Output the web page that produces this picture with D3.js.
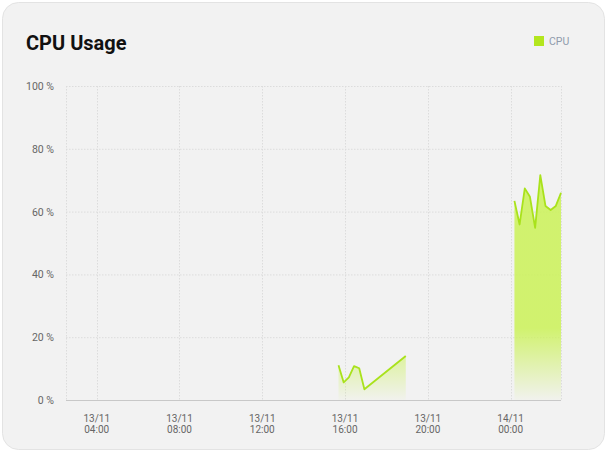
<!DOCTYPE html>
<html>
<head>
<meta charset="utf-8">
<script src="https://cdn.jsdelivr.net/npm/d3@7"></script>
<style>
  html, body { margin: 0; padding: 0; background: #ffffff; }
  svg { display: block; font-family: Roboto, "Noto Sans", sans-serif; }
</style>
</head>
<body>
<div id="chart"></div>
<script>
// CPU samples, 15 minute interval, two runs
const times = [
  "2023-11-13T15:41", "2023-11-13T15:56", "2023-11-13T16:11", "2023-11-13T16:26",
  "2023-11-13T16:41", "2023-11-13T16:56", "2023-11-13T18:56",
  "2023-11-14T00:11", "2023-11-14T00:26", "2023-11-14T00:41", "2023-11-14T00:56",
  "2023-11-14T01:11", "2023-11-14T01:26", "2023-11-14T01:41", "2023-11-14T01:56",
  "2023-11-14T02:11", "2023-11-14T02:26"
]
const cpu = [
  11.1, 5.6, 7.2, 10.8, 10.1, 3.4, 14.0,
  63.4, 55.9, 67.4, 64.7, 54.8, 71.6, 61.8, 60.5, 61.8, 66.0
]
// gap between the two runs (no samples)
const gapAfter = [6]
const xDomain = ["2023-11-13T02:31", "2023-11-14T02:26"]
const xTicks = ["2023-11-13T04:00", "2023-11-13T08:00", "2023-11-13T12:00",
  "2023-11-13T16:00", "2023-11-13T20:00", "2023-11-14T00:00"]
const yTicks = [0, 20, 40, 60, 80, 100]

const width = 610, height = 457
const margin = { top: 86, right: 49, bottom: 57, left: 66 }
const lineColor = "#a9e21c"
const fillColor = "#cbf257"

const parse = d3.timeParse("%Y-%m-%dT%H:%M")
const data = times.map((t, i) => ({ t: parse(t), v: cpu[i], i }))

const svg = d3.select("#chart").append("svg")
  .attr("width", width)
  .attr("height", height)

// card
svg.append("rect")
  .attr("x", 2.5).attr("y", 2.5)
  .attr("width", 602).attr("height", 447)
  .attr("rx", 16)
  .attr("fill", "#f2f2f2")
  .attr("stroke", "#e3e3e3")

svg.append("text")
  .attr("x", 26).attr("y", 50)
  .attr("font-size", 20)
  .attr("font-weight", 700)
  .attr("fill", "#111")
  .text("CPU Usage")

// legend
const legend = svg.append("g").attr("transform", "translate(534,36)")
legend.append("rect")
  .attr("width", 10).attr("height", 10)
  .attr("fill", "#b3e61e")
legend.append("text")
  .attr("x", 15).attr("y", 9)
  .attr("font-size", 10.5)
  .attr("fill", "#8f9bac")
  .text("CPU")

const x = d3.scaleTime()
  .domain(xDomain.map(parse))
  .range([margin.left, width - margin.right])
const y = d3.scaleLinear()
  .domain([0, 100])
  .range([height - margin.bottom, margin.top])

const grid = svg.append("g")
  .attr("stroke", "#dcdcdc")
  .attr("stroke-dasharray", "1.5,1.5")

grid.selectAll("line.h")
  .data(yTicks.filter(d => d > 0))
  .enter()
    .append("line")
    .attr("class", "h")
    .attr("x1", x.range()[0]).attr("x2", x.range()[1])
    .attr("y1", d => y(d) + 0.5).attr("y2", d => y(d) + 0.5)

grid.selectAll("line.v")
  .data(xTicks.map(parse).concat(x.domain()))
  .enter()
    .append("line")
    .attr("class", "v")
    .attr("x1", d => Math.round(x(d)) + 0.5).attr("x2", d => Math.round(x(d)) + 0.5)
    .attr("y1", y(100)).attr("y2", y(0))

// gradient over the series' bounding box
const yTop = y(d3.max(cpu))
const grad = svg.append("defs").append("linearGradient")
  .attr("id", "cpuFill")
  .attr("gradientUnits", "userSpaceOnUse")
  .attr("x1", 0).attr("x2", 0)
  .attr("y1", yTop).attr("y2", y(0))
grad.append("stop").attr("offset", 0).attr("stop-color", fillColor).attr("stop-opacity", 0.85)
grad.append("stop").attr("offset", 0.68).attr("stop-color", fillColor).attr("stop-opacity", 0.85)
grad.append("stop").attr("offset", 1).attr("stop-color", fillColor).attr("stop-opacity", 0.03)

const runs = []
let start = 0
gapAfter.forEach(g => { runs.push(data.slice(start, g + 1)); start = g + 1 })
runs.push(data.slice(start))

const area = d3.area()
  .x(d => x(d.t))
  .y0(y(0))
  .y1(d => y(d.v))
const line = d3.line()
  .x(d => x(d.t))
  .y(d => y(d.v))

svg.selectAll("path.area")
  .data(runs)
  .enter()
    .append("path")
    .attr("class", "area")
    .attr("d", area)
    .attr("fill", "url(#cpuFill)")

svg.selectAll("path.line")
  .data(runs)
  .enter()
    .append("path")
    .attr("class", "line")
    .attr("d", line)
    .attr("fill", "none")
    .attr("stroke", lineColor)
    .attr("stroke-width", 1.8)
    .attr("stroke-linejoin", "round")

// axis line
svg.append("line")
  .attr("x1", x.range()[0]).attr("x2", x.range()[1])
  .attr("y1", y(0) + 0.5).attr("y2", y(0) + 0.5)
  .attr("stroke", "#c8c8c8")

// y labels
svg.selectAll("text.ylab")
  .data(yTicks)
  .enter()
    .append("text")
    .attr("class", "ylab")
    .attr("x", 54)
    .attr("y", d => y(d) + 4)
    .attr("text-anchor", "end")
    .attr("font-size", 10.5)
    .attr("fill", "#666")
    .text(d => d + " %")

// x labels, two lines each
const fmtDay = d3.timeFormat("%d/%m")
const fmtHour = d3.timeFormat("%H:%M")
const xl = svg.selectAll("g.xlab")
  .data(xTicks.map(parse))
  .enter()
    .append("g")
    .attr("class", "xlab")
    .attr("text-anchor", "middle")
    .attr("font-size", 10)
    .attr("fill", "#666")
xl.append("text")
  .attr("x", d => x(d))
  .attr("y", 422)
  .text(fmtDay)
xl.append("text")
  .attr("x", d => x(d))
  .attr("y", 433)
  .text(fmtHour)
</script>
</body>
</html>
